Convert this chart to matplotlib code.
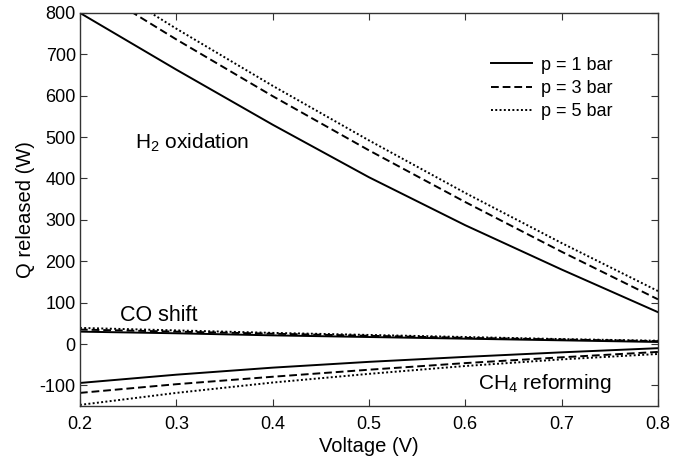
import numpy as np
import matplotlib
matplotlib.use("Agg")
import matplotlib.pyplot as plt

plt.rcParams["font.family"] = ["Liberation Sans", "DejaVu Sans"]
plt.rcParams["mathtext.fontset"] = "custom"
plt.rcParams["mathtext.rm"] = "Liberation Sans"
plt.rcParams["axes.unicode_minus"] = False

# Voltage grid (V)
voltage = [0.2, 0.3, 0.4, 0.5, 0.6, 0.7, 0.8]
pressures = ["p = 1 bar", "p = 3 bar", "p = 5 bar"]

# H2 oxidation heat (W) for p = 1, 3, 5 bar
h2_p1 = [800, 663, 530, 403, 287, 180, 77]
h2_p3 = [879, 736, 599, 468, 343, 223, 108]
h2_p5 = [906, 762, 624, 492, 365, 244, 128]

# CO shift heat (W)
co_p1 = [30, 26, 21, 17, 13, 9, 5]
co_p3 = [35, 30, 25, 20, 15, 11, 7]
co_p5 = [39, 33, 27, 22, 17, 12, 8]

# CH4 reforming heat (W)
ch4_p1 = [-94, -74, -57, -43, -31, -20, -10]
ch4_p3 = [-118, -97, -79, -62, -46, -32, -19]
ch4_p5 = [-147, -118, -93, -72, -53, -37, -24]

styles = ["-", (0, (4, 2)), (0, (1, 1.2))]

fig = plt.figure(figsize=(6.89, 4.61), dpi=100)
ax = fig.add_axes([0.116, 0.119, 0.839, 0.853])

groups = [(h2_p1, h2_p3, h2_p5), (co_p1, co_p3, co_p5), (ch4_p1, ch4_p3, ch4_p5)]
for g_i, group in enumerate(groups):
    for i, vals in enumerate(group):
        ax.plot(voltage, vals, color="black", linestyle=styles[i], lw=1.4,
                label=pressures[i] if g_i == 0 else None)

ax.set_xlim(0.2, 0.8)
ax.set_ylim(-150, 800)
ax.set_xticks([0.2, 0.3, 0.4, 0.5, 0.6, 0.7, 0.8])
ax.set_yticks([-100, 0, 100, 200, 300, 400, 500, 600, 700, 800])
ax.tick_params(direction="in", top=True, right=True, length=5, labelsize=13, color="#333333")
ax.tick_params(axis="x", pad=7)
ax.tick_params(axis="y", pad=3)
for s in ax.spines.values():
    s.set_color("#333333")
    s.set_linewidth(1.0)

ax.set_xlabel("Voltage (V)", fontsize=14.5, labelpad=3)
ax.set_ylabel("Q released (W)", fontsize=14.5, labelpad=3)

ax.text(0.257, 487, "H$_2$ oxidation", fontsize=15, va="center")
ax.text(0.2415, 70, "CO shift", fontsize=15.5, va="center")
ax.text(0.613, -96, "CH$_4$ reforming", fontsize=15, va="center")

ax.legend(loc="upper right", frameon=False, fontsize=13, handlelength=2.3,
          handletextpad=0.5, bbox_to_anchor=(0.95, 0.93), labelspacing=0.35)

fig.savefig("out.png", dpi=100)
